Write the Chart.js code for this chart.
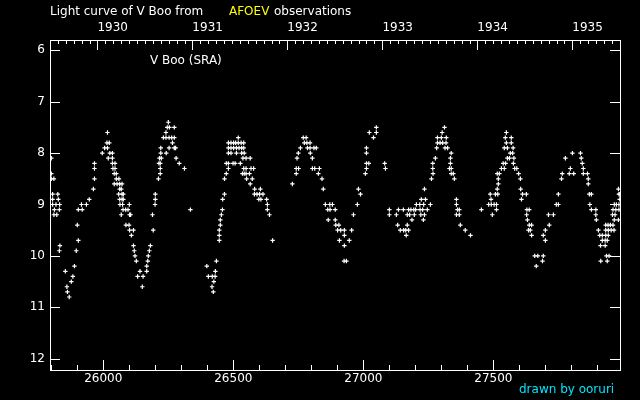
<!DOCTYPE html>
<html>
<head>
<meta charset="utf-8">
<script src="https://cdn.jsdelivr.net/npm/chart.js@4.4.1/dist/chart.umd.min.js"></script>
<style>
  html, body { margin: 0; padding: 0; background: #000; }
  #wrap { width: 640px; height: 400px; }
</style>
</head>
<body>
<div id="wrap"><canvas id="chart" width="640" height="400"></canvas></div>
<script>
// V Boo visual estimates: [JD - 2400000, magnitude]
const cycle1 = [
  [25800, 8.1], [25800, 8.4], [25800, 8.5], [25810, 8.5], [25805, 8.8], [25825, 8.8], [25805, 8.9], [25827, 8.9],
  [25805, 9.0], [25818, 9.0], [25832, 9.0], [25812, 9.1], [25831, 9.1], [25810, 9.2], [25821, 9.2], [25833, 9.8], [25831, 9.9],
  [25854, 10.3], [25860, 10.6], [25862, 10.7], [25869, 10.8], [25877, 10.5], [25883, 10.4], [25889, 10.2], [25896, 9.9],
  [25900, 9.4], [25904, 9.7], [25904, 9.1], [25916, 9.0], [25919, 9.1], [25935, 9.0], [25946, 8.9], [25962, 8.7],
  [25966, 8.5], [25966, 8.3], [25966, 8.2], [25996, 8.0],
  [26005, 7.9], [26014, 7.8], [26016, 7.6], [26016, 7.9], [26019, 8.1], [26023, 7.8], [26025, 8.0], [26035, 8.0],
  [26035, 8.1], [26035, 8.2], [26037, 8.3], [26042, 8.4], [26042, 8.6], [26045, 8.2], [26045, 8.3], [26050, 8.4],
  [26050, 8.5], [26053, 8.6], [26059, 8.8], [26060, 8.5], [26063, 8.6], [26063, 8.7], [26063, 8.9], [26064, 9.0],
  [26069, 8.7], [26069, 9.2], [26072, 8.6], [26072, 8.8], [26072, 8.9], [26074, 9.0], [26076, 9.1], [26077, 8.8],
  [26077, 8.9], [26086, 9.1], [26087, 9.4], [26095, 9.1], [26099, 9.4], [26100, 9.0], [26101, 9.2], [26101, 9.5],
  [26105, 9.2], [26108, 9.6], [26116, 9.5], [26116, 9.8], [26119, 9.9], [26122, 10.0], [26127, 10.1], [26132, 10.4],
  [26141, 10.3], [26150, 10.6], [26153, 10.4],
  [26167, 10.2], [26167, 10.3], [26171, 10.1], [26173, 10.0], [26177, 9.9], [26181, 9.8], [26189, 9.2], [26192, 9.5],
  [26199, 9.0], [26200, 8.9], [26200, 8.8], [26212, 8.5], [26219, 8.4], [26219, 8.3], [26214, 8.2], [26219, 8.2],
  [26216, 8.1], [26223, 8.1], [26221, 8.0], [26221, 7.9], [26231, 7.7], [26241, 7.6], [26241, 7.7], [26242, 8.0],
  [26246, 7.5], [26250, 7.4], [26253, 7.7], [26253, 7.9], [26254, 7.5], [26263, 7.7], [26266, 7.8], [26273, 7.5],
  [26273, 7.7], [26273, 7.9], [26278, 7.9], [26280, 8.1], [26292, 8.2], [26312, 8.3], [26335, 9.1]
];
const cycle2 = [
  [26398, 10.2], [26404, 10.4], [26418, 10.6], [26419, 10.4], [26423, 10.7], [26425, 10.5], [26430, 10.4], [26431, 10.3],
  [26435, 10.1], [26446, 9.7], [26446, 9.6], [26446, 9.5], [26450, 9.4], [26450, 9.3], [26454, 9.2], [26458, 9.1],
  [26459, 8.9], [26466, 8.8], [26466, 8.5], [26473, 8.4], [26473, 8.2], [26481, 8.3], [26481, 8.2], [26481, 8.0],
  [26481, 7.9], [26481, 7.8], [26491, 7.8], [26491, 7.9], [26491, 8.0], [26499, 8.2], [26501, 7.8], [26501, 7.9],
  [26507, 8.2], [26509, 7.8], [26512, 7.9], [26512, 8.0], [26519, 7.7], [26519, 7.8], [26522, 7.9], [26527, 8.2],
  [26530, 7.8], [26532, 7.9], [26532, 8.0], [26535, 8.4], [26537, 8.1], [26540, 7.8], [26540, 7.9], [26540, 8.3],
  [26542, 8.0], [26542, 8.4], [26549, 8.1], [26565, 8.1], [26549, 8.3], [26568, 8.3], [26578, 8.3], [26549, 8.4],
  [26562, 8.4], [26551, 8.5], [26573, 8.5], [26565, 8.6], [26582, 8.7], [26604, 8.7], [26581, 8.8], [26591, 8.8],
  [26601, 8.8], [26614, 8.8], [26598, 8.9], [26606, 8.9], [26628, 8.9], [26631, 9.0], [26631, 9.1], [26639, 9.2],
  [26651, 9.7]
];
const cycle3 = [
  [26727, 8.6], [26742, 8.3], [26742, 8.4], [26745, 8.1], [26750, 8.0], [26751, 8.3], [26758, 7.9], [26769, 7.7],
  [26773, 7.8], [26780, 7.7], [26783, 7.8], [26785, 7.9], [26795, 7.8], [26795, 7.9], [26796, 8.0], [26804, 8.1],
  [26804, 8.3], [26810, 7.9], [26813, 8.3], [26819, 7.9], [26827, 8.4], [26831, 8.3], [26841, 8.5], [26846, 8.7],
  [26854, 9.0], [26863, 9.1], [26865, 9.3], [26871, 9.0], [26872, 9.1], [26881, 9.0], [26892, 9.1], [26892, 9.3],
  [26894, 9.4], [26901, 9.5], [26906, 9.4], [26908, 9.7], [26913, 9.5],
  [26926, 10.1], [26927, 9.5], [26927, 9.6], [26927, 9.8], [26935, 10.1], [26946, 9.7], [26955, 9.5], [26962, 9.2],
  [26977, 9.0], [26981, 8.7], [26989, 8.8], [27008, 8.4], [27012, 7.9], [27012, 8.0], [27012, 8.2], [27012, 8.3],
  [27021, 8.2], [27023, 7.6], [27039, 7.7], [27050, 7.5], [27050, 7.6], [27082, 8.2], [27085, 8.3]
];
const cycle4 = [
  [27100, 9.1], [27100, 9.2], [27127, 9.2], [27132, 9.4], [27135, 9.1], [27142, 9.5], [27154, 9.1], [27155, 9.5],
  [27163, 9.5], [27165, 9.6], [27169, 9.2], [27169, 9.4], [27174, 9.1], [27174, 9.5], [27178, 9.2], [27183, 9.1],
  [27187, 9.3], [27194, 9.1], [27196, 9.2], [27201, 9.1], [27204, 9.0], [27217, 9.0], [27218, 9.1], [27221, 9.2],
  [27223, 8.9], [27228, 9.1], [27231, 9.3], [27232, 9.0], [27235, 8.7], [27235, 9.2], [27239, 8.9], [27246, 9.1],
  [27258, 9.0], [27262, 8.5], [27267, 8.2], [27267, 8.3], [27268, 8.4], [27277, 8.1], [27282, 7.9], [27285, 7.7],
  [27285, 7.8], [27295, 7.8], [27300, 7.7], [27303, 7.6], [27305, 7.8], [27312, 7.5], [27314, 7.9], [27318, 7.8],
  [27319, 7.7], [27324, 7.9], [27335, 8.1], [27335, 8.2], [27331, 8.3], [27338, 8.0], [27338, 8.3], [27338, 8.4],
  [27346, 8.4], [27350, 8.5], [27358, 8.9], [27358, 9.0], [27358, 9.2], [27362, 9.1], [27369, 9.1], [27369, 9.2],
  [27373, 9.4], [27392, 9.5], [27412, 9.6]
];
const cycle5 = [
  [27454, 9.1], [27482, 9.0], [27488, 8.8], [27491, 8.9], [27492, 9.0], [27496, 9.2], [27503, 9.0], [27508, 8.8],
  [27512, 9.0], [27512, 9.1], [27515, 8.4], [27515, 8.7], [27517, 8.8], [27519, 8.5], [27519, 8.6], [27523, 8.4],
  [27531, 8.3], [27538, 8.2], [27542, 7.9], [27542, 8.3], [27546, 7.7], [27547, 8.2], [27550, 7.6], [27550, 7.8],
  [27554, 7.9], [27554, 8.1], [27562, 8.1], [27565, 8.0], [27569, 7.7], [27569, 7.8], [27574, 8.0], [27576, 7.9],
  [27577, 8.2], [27579, 8.1], [27582, 8.3], [27590, 8.3], [27597, 8.4], [27604, 8.5], [27605, 8.7], [27608, 8.9],
  [27612, 8.8], [27627, 8.8], [27628, 9.2], [27629, 9.1], [27631, 9.3], [27635, 9.5], [27638, 9.1], [27638, 9.4],
  [27642, 9.5], [27647, 9.4], [27647, 9.6],
  [27659, 10.0], [27665, 10.2], [27671, 10.0], [27689, 10.1], [27692, 10.0], [27692, 9.6], [27700, 9.5], [27700, 9.7],
  [27712, 9.2], [27715, 9.4], [27731, 9.2], [27742, 9.0], [27750, 8.8], [27750, 9.0], [27762, 8.5], [27765, 8.4],
  [27777, 8.1], [27792, 8.4], [27796, 8.3], [27804, 8.0], [27809, 8.4], [27835, 8.0], [27838, 8.1], [27842, 8.2],
  [27846, 8.3], [27846, 8.4], [27862, 8.4], [27865, 8.5], [27865, 8.6], [27869, 8.8], [27871, 9.0], [27877, 8.8],
  [27877, 9.1], [27894, 9.1], [27894, 9.2], [27896, 9.3]
];
const cycle6 = [
  [27904, 9.5], [27909, 9.6], [27912, 9.8], [27913, 10.1], [27919, 9.6], [27919, 9.7], [27930, 9.7], [27930, 9.8],
  [27932, 9.4], [27932, 9.5], [27932, 9.6], [27935, 10.0], [27938, 9.7], [27938, 10.1], [27941, 9.4], [27942, 9.5],
  [27942, 9.6], [27945, 10.0], [27950, 9.4], [27953, 9.5], [27958, 9.2], [27960, 9.1], [27960, 9.4], [27964, 9.5],
  [27965, 9.0], [27965, 9.3], [27968, 9.2], [27971, 9.1], [27973, 9.0], [27981, 8.7], [27981, 9.3], [27983, 8.8],
  [27983, 9.0], [27983, 9.1], [27986, 8.8], [27986, 8.9]
];

const jdTicks = [26000, 26500, 27000, 27500];
const magTicks = [6, 7, 8, 9, 10, 11, 12];
const yearLabels = ['1930', '1931', '1932', '1933', '1934', '1935'];
const yearStarts = [25977.5, 26342.5, 26707.5, 27073.5, 27438.5, 27803.5];

const JD_MIN = 25795, JD_MAX = 27987;
const FONT = 'DejaVu Sans';

const frameTicks = {
  id: 'frameTicks',
  afterDraw(chart) {
    const { ctx, chartArea: a, scales } = chart;
    const px = (s, v) => Math.round(s.getPixelForValue(v)) + 0.5;
    ctx.save();
    ctx.strokeStyle = '#fff';
    ctx.lineWidth = 1;
    ctx.strokeRect(a.left + 0.5, a.top + 0.5, a.right - a.left, a.bottom - a.top);
    ctx.beginPath();
    // bottom: every 100 days, longer every 500
    for (let v = 25800; v <= JD_MAX; v += 100) {
      const x = px(scales.x, v);
      ctx.moveTo(x, a.bottom);
      ctx.lineTo(x, a.bottom - (v % 500 === 0 ? 10 : 5));
    }
    // top: years and months
    for (let y = -1; y < yearStarts.length; y++) {
      const start = y < 0 ? yearStarts[0] - 365.25 : yearStarts[y];
      for (let m = 0; m < 12; m++) {
        const v = start + m * 365.25 / 12;
        if (v < JD_MIN || v > JD_MAX) continue;
        const x = px(scales.x, v);
        ctx.moveTo(x, a.top);
        ctx.lineTo(x, a.top + (m === 0 ? 10 : 4));
      }
    }
    // magnitude ticks both sides
    magTicks.forEach(m => {
      const y = px(scales.y, m);
      ctx.moveTo(a.left, y); ctx.lineTo(a.left + 10, y);
      ctx.moveTo(a.right, y); ctx.lineTo(a.right - 10, y);
    });
    ctx.stroke();

    ctx.textBaseline = 'middle';
    ctx.textAlign = 'left';
    ctx.font = '12px "' + FONT + '"';
    ctx.fillStyle = '#fff';
    ctx.fillText('Light curve of V Boo from', 50, 12);
    ctx.fillStyle = '#ffff00';
    ctx.fillText('AFOEV', 229, 12);
    ctx.fillStyle = '#fff';
    ctx.fillText('observations', 274, 12);
    ctx.fillText('V Boo (SRA)', 150, 61);
    ctx.fillStyle = '#00e5ff';
    ctx.fillText('drawn by ooruri', 519, 390);
    ctx.restore();
  }
};

const toPoints = arr => arr.map(p => ({ x: p[0], y: p[1] }));
const cycles = [cycle1, cycle2, cycle3, cycle4, cycle5, cycle6];

new Chart(document.getElementById('chart'), {
  type: 'scatter',
  data: {
    datasets: cycles.map(c => ({
      data: toPoints(c),
      pointStyle: 'cross',
      radius: 2.2,
      borderColor: '#fff',
      backgroundColor: '#fff',
      borderWidth: 1.2,
      hoverRadius: 2.2
    }))
  },
  options: {
    responsive: false,
    animation: false,
    events: [],
    layout: { padding: { left: 0, right: 20, top: 0, bottom: 0 } },
    plugins: { legend: { display: false }, tooltip: { enabled: false } },
    scales: {
      x: {
        type: 'linear', position: 'bottom', min: JD_MIN, max: JD_MAX,
        grid: { display: false, drawTicks: false },
        border: { display: false },
        afterBuildTicks: s => { s.ticks = jdTicks.map(v => ({ value: v })); },
        afterFit: s => { s.height = 30; },
        ticks: {
          color: '#fff', font: { family: FONT, size: 12 }, padding: 2,
          autoSkip: false, maxRotation: 0, callback: v => String(v)
        }
      },
      xTop: {
        type: 'linear', position: 'top', min: JD_MIN, max: JD_MAX,
        grid: { display: false, drawTicks: false },
        border: { display: false },
        afterBuildTicks: s => { s.ticks = yearStarts.map(v => ({ value: v })); },
        afterFit: s => { s.height = 40; },
        ticks: {
          color: '#fff', font: { family: FONT, size: 12 }, padding: 5, align: 'start',
          autoSkip: false, maxRotation: 0, callback: (v, i) => yearLabels[i]
        }
      },
      y: {
        type: 'linear', position: 'left', reverse: true, min: 5.8, max: 12.22,
        grid: { display: false, drawTicks: false },
        border: { display: false },
        afterBuildTicks: s => { s.ticks = magTicks.map(v => ({ value: v })); },
        afterFit: s => { s.width = 50; },
        ticks: {
          color: '#fff', font: { family: FONT, size: 12 }, padding: 5,
          autoSkip: false, callback: v => String(v)
        }
      }
    }
  },
  plugins: [frameTicks]
});
</script>
</body>
</html>
